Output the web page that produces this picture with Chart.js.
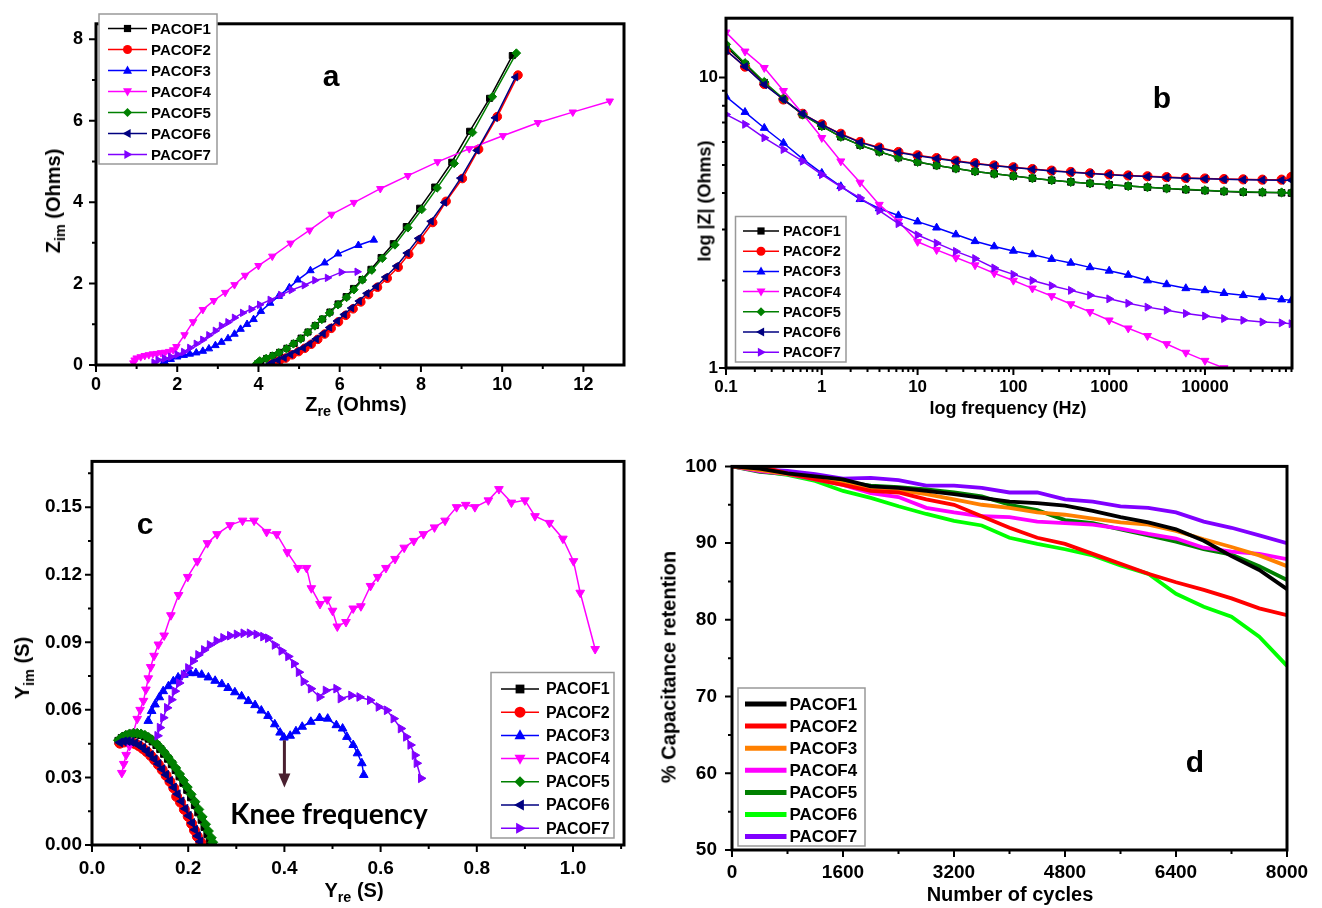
<!DOCTYPE html>
<html>
<head>
<meta charset="utf-8">
<script src="https://cdn.jsdelivr.net/npm/chart.js@4.4.0/dist/chart.umd.min.js"></script>
<style>
  body { margin: 0; background: #fff; }
  #page { position: relative; width: 1322px; height: 908px; overflow: hidden; background: #fff;
          font-family: 'Liberation Sans', Arial, sans-serif; font-weight: bold; color: #000; }
  canvas { position: absolute; }
  .lbl { position: absolute; white-space: nowrap; transform: translate(-50%, -50%); }
  .rot { transform: translate(-50%, -50%) rotate(-90deg); }
  .lbl sub { font-size: 72%; vertical-align: -0.35em; }
  .letter { font-size: 30px; }
  .knee { font-family: Lato, 'Open Sans', sans-serif; font-size: 28px; font-weight: bold; }
</style>
</head>
<body>
<div id="page">
  <canvas id="chartA" style="left:0;top:0" width="660" height="430"></canvas>
  <canvas id="chartB" style="left:660px;top:0" width="662" height="430"></canvas>
  <canvas id="chartC" style="left:0;top:440px" width="660" height="468"></canvas>
  <canvas id="chartD" style="left:660px;top:440px" width="662" height="468"></canvas>

  <div class="lbl rot" style="left:55px;top:201px;font-size:20px">Z<sub>im</sub> (Ohms)</div>
  <div class="lbl" style="left:356px;top:406px;font-size:20px">Z<sub>re</sub> (Ohms)</div>
  <div class="lbl letter" style="left:331px;top:76px">a</div>

  <div class="lbl rot" style="left:705px;top:201px;font-size:18px">log |Z| (Ohms)</div>
  <div class="lbl" style="left:1008px;top:408px;font-size:18px">log frequency (Hz)</div>
  <div class="lbl letter" style="left:1162px;top:98px">b</div>

  <div class="lbl rot" style="left:24px;top:668px;font-size:20px">Y<sub>im</sub> (S)</div>
  <div class="lbl" style="left:354px;top:892px;font-size:20px">Y<sub>re</sub> (S)</div>
  <div class="lbl letter" style="left:145px;top:524px">c</div>
  <div class="lbl knee" style="left:329px;top:813px">Knee frequency</div>

  <div class="lbl rot" style="left:669px;top:667px;font-size:20px">% Capacitance retention</div>
  <div class="lbl" style="left:1010px;top:894px;font-size:20px">Number of cycles</div>
  <div class="lbl letter" style="left:1195px;top:762px">d</div>
</div>

<script>
// ---- data ----
const names = ['PACOF1', 'PACOF2', 'PACOF3', 'PACOF4', 'PACOF5', 'PACOF6', 'PACOF7'];

// (a) Nyquist, [Zre, Zim] in Ohms
const nyq1 = [[3.98,0.03],[4.06,0.09],[4.2,0.16],[4.36,0.23],[4.52,0.31],[4.7,0.41],[4.88,0.53],[5.05,0.66],[5.22,0.81],[5.4,0.97],[5.58,1.13],[5.76,1.3],[5.96,1.5],[6.16,1.68],[6.34,1.88],[6.55,2.1],[6.77,2.35],[7.02,2.64],[7.32,2.98],[7.64,3.4],[7.97,3.85],[8.34,4.37],[8.76,4.98],[9.2,5.74],[9.69,6.55],[10.25,7.6]];
const nyq2 = [[4.3,0.02],[4.38,0.06],[4.52,0.11],[4.67,0.17],[4.83,0.25],[4.99,0.33],[5.14,0.41],[5.3,0.51],[5.46,0.63],[5.63,0.76],[5.79,0.9],[5.97,1.06],[6.15,1.22],[6.33,1.38],[6.52,1.55],[6.71,1.73],[6.93,1.91],[7.17,2.13],[7.44,2.4],[7.7,2.72],[7.98,3.08],[8.29,3.5],[8.62,4.02],[9.02,4.58],[9.42,5.3],[9.88,6.1],[10.39,7.12]];
const nyq3 = [[1.64,0.02],[1.69,0.08],[1.84,0.14],[2.0,0.2],[2.16,0.24],[2.31,0.27],[2.47,0.3],[2.63,0.34],[2.78,0.4],[2.94,0.48],[3.09,0.56],[3.25,0.65],[3.41,0.76],[3.56,0.88],[3.72,1.0],[3.88,1.12],[4.06,1.32],[4.29,1.52],[4.5,1.69],[4.76,1.9],[4.97,2.09],[5.28,2.32],[5.63,2.51],[5.96,2.73],[6.46,2.94],[6.84,3.07]];
const nyq4 = [[0.92,0.05],[0.95,0.12],[1.0,0.17],[1.1,0.2],[1.2,0.23],[1.3,0.25],[1.4,0.27],[1.5,0.28],[1.6,0.3],[1.7,0.31],[1.8,0.33],[1.9,0.37],[1.98,0.45],[2.18,0.74],[2.39,1.06],[2.63,1.36],[2.9,1.58],[3.18,1.78],[3.41,1.97],[3.67,2.2],[4.0,2.44],[4.34,2.67],[4.79,2.99],[5.26,3.31],[5.8,3.7],[6.35,3.99],[7.0,4.33],[7.68,4.65],[8.41,4.99],[9.19,5.31],[10.02,5.63],[10.88,5.95],[11.74,6.21],[12.65,6.48]];
const nyq5 = [[3.96,0.04],[4.03,0.1],[4.19,0.16],[4.34,0.22],[4.5,0.3],[4.69,0.4],[4.86,0.52],[5.04,0.64],[5.21,0.8],[5.39,0.96],[5.56,1.12],[5.75,1.28],[5.96,1.48],[6.17,1.66],[6.35,1.85],[6.56,2.09],[6.79,2.33],[7.05,2.62],[7.36,2.95],[7.68,3.37],[8.02,3.82],[8.4,4.35],[8.82,4.95],[9.27,5.71],[9.76,6.59],[10.35,7.66]];
const nyq6 = [[4.27,0.02],[4.34,0.06],[4.48,0.12],[4.63,0.18],[4.79,0.26],[4.95,0.34],[5.1,0.42],[5.26,0.52],[5.42,0.64],[5.59,0.77],[5.75,0.92],[5.94,1.08],[6.11,1.24],[6.29,1.4],[6.48,1.57],[6.67,1.76],[6.9,1.93],[7.13,2.16],[7.4,2.43],[7.66,2.75],[7.94,3.11],[8.25,3.53],[8.58,3.99],[8.98,4.59],[9.38,5.27],[9.83,6.07],[10.33,7.07]];
const nyq7 = [[1.43,0.06],[1.53,0.12],[1.69,0.16],[1.84,0.2],[2.0,0.26],[2.16,0.32],[2.31,0.42],[2.47,0.52],[2.63,0.62],[2.78,0.73],[2.94,0.84],[3.09,0.96],[3.25,1.05],[3.41,1.16],[3.61,1.28],[3.82,1.37],[4.03,1.48],[4.29,1.6],[4.55,1.72],[4.81,1.84],[5.13,1.96],[5.39,2.08],[5.7,2.14],[6.04,2.28],[6.43,2.29]];
const xTicksA = [0, 2, 4, 6, 8, 10, 12];
const yTicksA = [0, 2, 4, 6, 8];

// (b) Bode, |Z| in Ohms against frequency in Hz
const freqB = [0.1,0.158,0.251,0.398,0.631,1,1.58,2.51,3.98,6.31,10,15.8,25.1,39.8,63.1,100,158,251,398,631,1000,1580,2510,3980,6310,10000,15800,25100,39800,63100,80000];
const bode1 = [12.8,11.1,9.6,8.4,7.45,6.8,6.25,5.85,5.55,5.3,5.12,4.98,4.86,4.75,4.66,4.58,4.5,4.43,4.37,4.32,4.27,4.23,4.19,4.15,4.11,4.08,4.05,4.03,4.02,4.01,4.0];
const bode2 = [12.4,10.9,9.5,8.4,7.5,6.9,6.4,6.0,5.74,5.54,5.4,5.28,5.17,5.07,4.98,4.91,4.84,4.78,4.73,4.68,4.64,4.6,4.57,4.54,4.51,4.49,4.47,4.46,4.45,4.45,4.55];
const bode3 = [8.6,7.6,6.7,5.95,5.25,4.69,4.22,3.81,3.54,3.35,3.19,3.04,2.88,2.73,2.62,2.53,2.46,2.37,2.3,2.22,2.16,2.09,2.0,1.94,1.88,1.85,1.81,1.78,1.75,1.72,1.71];
const bode4 = [14.3,12.3,10.8,9.0,7.5,6.2,5.15,4.35,3.65,3.2,2.72,2.55,2.4,2.26,2.12,2.0,1.88,1.77,1.66,1.56,1.46,1.37,1.29,1.21,1.13,1.06,1.0,0.94,0.88,0.83,0.8];
const bode5 = [13.0,11.2,9.65,8.45,7.45,6.8,6.25,5.85,5.55,5.3,5.12,4.98,4.86,4.75,4.66,4.58,4.5,4.43,4.37,4.32,4.27,4.23,4.19,4.15,4.12,4.09,4.06,4.04,4.03,4.02,4.01];
const bode6 = [12.4,10.9,9.45,8.4,7.5,6.88,6.38,5.98,5.72,5.52,5.38,5.26,5.15,5.05,4.97,4.9,4.83,4.77,4.72,4.67,4.63,4.59,4.56,4.53,4.5,4.48,4.46,4.45,4.44,4.43,4.43];
const bode7 = [7.46,6.9,6.2,5.65,5.15,4.63,4.2,3.85,3.48,3.14,2.87,2.69,2.52,2.38,2.21,2.1,2.0,1.92,1.85,1.78,1.73,1.67,1.62,1.58,1.54,1.51,1.48,1.46,1.44,1.43,1.42];
const xTicksB = [0.1, 1, 10, 100, 1000, 10000];
const yTicksB = [1, 10];

// (c) admittance, [Yre, Yim] in S
const adm1 = [[0.055,0.0462],[0.062,0.0475],[0.070,0.0484],[0.078,0.0490],[0.086,0.0493],[0.094,0.0492],[0.102,0.0489],[0.110,0.0482],[0.118,0.0472],[0.126,0.0460],[0.134,0.0444],[0.142,0.0426],[0.150,0.0405],[0.158,0.0383],[0.166,0.0359],[0.174,0.0333],[0.182,0.0305],[0.190,0.0276],[0.198,0.0245],[0.206,0.0212],[0.214,0.0178],[0.221,0.0145],[0.228,0.0112],[0.234,0.0080],[0.240,0.0048],[0.245,0.0018]];
const adm2 = [[0.058,0.0452],[0.066,0.0457],[0.074,0.0458],[0.082,0.0455],[0.090,0.0449],[0.098,0.0440],[0.106,0.0428],[0.114,0.0414],[0.122,0.0397],[0.130,0.0378],[0.138,0.0357],[0.146,0.0334],[0.154,0.0309],[0.162,0.0282],[0.170,0.0253],[0.176,0.0215],[0.184,0.0190],[0.192,0.0158],[0.200,0.0127],[0.207,0.0095],[0.213,0.0066],[0.219,0.0038],[0.226,0.0012]];
const adm3 = [[0.117,0.0551],[0.124,0.0595],[0.131,0.0624],[0.140,0.0656],[0.148,0.0683],[0.159,0.0705],[0.169,0.0727],[0.179,0.0744],[0.191,0.0756],[0.204,0.0763],[0.216,0.0763],[0.228,0.0756],[0.242,0.0744],[0.256,0.0729],[0.270,0.0714],[0.283,0.0697],[0.297,0.0678],[0.311,0.066],[0.325,0.0639],[0.339,0.0621],[0.352,0.0597],[0.366,0.0573],[0.380,0.0536],[0.391,0.0499],[0.399,0.0477],[0.412,0.0485],[0.424,0.0505],[0.437,0.0525],[0.455,0.0547],[0.473,0.0564],[0.490,0.0561],[0.508,0.0532],[0.521,0.0517],[0.530,0.048],[0.543,0.0444],[0.552,0.0407],[0.561,0.0363],[0.565,0.0311]];
const adm4 = [[0.062,0.032],[0.066,0.036],[0.071,0.040],[0.078,0.044],[0.086,0.050],[0.094,0.056],[0.100,0.060],[0.107,0.064],[0.112,0.069],[0.117,0.074],[0.122,0.079],[0.129,0.084],[0.138,0.089],[0.150,0.093],[0.164,0.102],[0.180,0.111],[0.199,0.119],[0.219,0.126],[0.240,0.134],[0.260,0.138],[0.287,0.142],[0.313,0.144],[0.337,0.144],[0.363,0.139],[0.384,0.138],[0.406,0.130],[0.428,0.123],[0.446,0.123],[0.456,0.114],[0.474,0.107],[0.489,0.109],[0.500,0.104],[0.510,0.097],[0.528,0.099],[0.543,0.105],[0.559,0.106],[0.579,0.115],[0.594,0.119],[0.611,0.123],[0.630,0.127],[0.649,0.132],[0.669,0.135],[0.689,0.138],[0.712,0.141],[0.734,0.144],[0.758,0.150],[0.777,0.151],[0.796,0.150],[0.824,0.153],[0.846,0.158],[0.872,0.152],[0.900,0.153],[0.921,0.146],[0.951,0.143],[0.979,0.136],[1.001,0.126],[1.015,0.112],[1.046,0.087]];
const adm5 = [[0.055,0.0465],[0.062,0.0478],[0.070,0.0487],[0.078,0.0493],[0.086,0.0496],[0.094,0.0496],[0.102,0.0493],[0.110,0.0487],[0.118,0.0477],[0.126,0.0465],[0.134,0.0450],[0.142,0.0432],[0.150,0.0412],[0.158,0.0390],[0.166,0.0367],[0.174,0.0342],[0.182,0.0315],[0.190,0.0287],[0.198,0.0257],[0.206,0.0225],[0.214,0.0192],[0.222,0.0158],[0.229,0.0125],[0.236,0.0092],[0.242,0.0062],[0.248,0.0032],[0.251,0.0012]];
const adm6 = [[0.058,0.0455],[0.066,0.0460],[0.074,0.0461],[0.082,0.0458],[0.090,0.0452],[0.098,0.0443],[0.106,0.0431],[0.114,0.0417],[0.122,0.0400],[0.130,0.0381],[0.138,0.0360],[0.146,0.0337],[0.154,0.0312],[0.162,0.0285],[0.170,0.0256],[0.178,0.0226],[0.186,0.0194],[0.194,0.0161],[0.201,0.0130],[0.208,0.0098],[0.214,0.0068],[0.220,0.0040],[0.225,0.0015]];
const adm7 = [[0.136,0.0485],[0.141,0.0521],[0.148,0.0565],[0.156,0.0609],[0.165,0.0645],[0.172,0.0683],[0.181,0.0719],[0.191,0.0756],[0.200,0.0786],[0.210,0.0817],[0.221,0.0844],[0.233,0.0866],[0.245,0.0888],[0.259,0.0906],[0.273,0.092],[0.287,0.0929],[0.301,0.0935],[0.315,0.094],[0.328,0.094],[0.342,0.0935],[0.356,0.0925],[0.366,0.0918],[0.380,0.0888],[0.394,0.0862],[0.408,0.0837],[0.420,0.0805],[0.430,0.0767],[0.440,0.0726],[0.455,0.0694],[0.473,0.0657],[0.486,0.0686],[0.508,0.0694],[0.517,0.065],[0.539,0.0664],[0.556,0.0657],[0.578,0.0643],[0.596,0.0613],[0.613,0.0598],[0.627,0.0561],[0.642,0.0517],[0.653,0.048],[0.662,0.0444],[0.671,0.0399],[0.675,0.0363],[0.684,0.0296]];
const xTicksC = [0.0, 0.2, 0.4, 0.6, 0.8, 1.0];
const yTicksC = [0.00, 0.03, 0.06, 0.09, 0.12, 0.15];
const kneeX = 0.4, kneeFrom = 0.0465, kneeTo = 0.0255;

// (d) cycling, % capacitance retention
const cyclesD = [0,400,800,1200,1600,2000,2400,2800,3200,3600,4000,4400,4800,5200,5600,6000,6400,6800,7200,7600,8000];
const ret1 = [100,99.7,99.1,98.7,98.3,97.4,97.2,96.8,96.4,95.9,95.4,95.2,94.9,94.2,93.4,92.7,91.8,90.3,88.3,86.5,84.0];
const ret2 = [100,100,99.1,98.3,97.6,96.8,96.6,95.7,95.0,93.5,92.0,90.7,89.9,88.6,87.3,86.0,84.9,83.9,82.8,81.5,80.6];
const ret3 = [100,99.5,99.0,98.5,97.8,97.1,96.9,96.4,95.7,95.0,94.6,94.0,93.7,93.2,92.7,92.4,91.6,90.5,89.5,88.4,87.0];
const ret4 = [100,99.4,99.0,98.3,97.6,96.5,96.0,94.6,94.0,93.5,93.4,92.8,92.6,92.4,91.9,91.2,90.6,89.4,88.9,88.6,87.9];
const ret5 = [100,99.3,99.0,98.5,98.0,97.5,97.3,97.0,96.6,96.1,95.0,94.3,93.0,92.6,91.8,91.0,90.2,89.2,88.5,87.0,85.2];
const ret6 = [100,99.4,98.9,98.1,96.8,95.9,94.8,93.8,92.9,92.3,90.7,89.9,89.2,88.4,87.1,86.0,83.4,81.7,80.4,77.8,74.0];
const ret7 = [100,99.6,99.4,99.0,98.4,98.5,98.2,97.5,97.5,97.2,96.6,96.6,95.7,95.4,94.8,94.6,94.0,92.8,92.0,91.0,90.0];
const xTicksD = [0, 1600, 3200, 4800, 6400, 8000];
const yTicksD = [50, 60, 70, 80, 90, 100];

// ---- styles ----
const colorsEIS = ['#000000', '#ff0000', '#0000ff', '#ff00ff', '#008000', '#000080', '#8000ff'];
const colorsCyc = ['#000000', '#ff0000', '#ff8000', '#ff00ff', '#008000', '#00ff00', '#8000ff'];
const markers = [
  { style: 'rect', rot: 0 }, { style: 'circle', rot: 0 }, { style: 'triangle', rot: 0 },
  { style: 'triangle', rot: 180 }, { style: 'rectRot', rot: 0 }, { style: 'triangle', rot: -90 },
  { style: 'triangle', rot: 90 }
];
const FONT = "'Liberation Sans', Arial, sans-serif";

function pairs(list) { return list.map(p => ({ x: p[0], y: p[1] })); }
function zip(xs, ys) { return xs.map((x, i) => ({ x: x, y: ys[i] })); }

function eisSets(series, radius) {
  return series.map((d, i) => ({
    label: names[i], data: d, showLine: true, tension: 0,
    borderColor: colorsEIS[i], backgroundColor: colorsEIS[i], borderWidth: 1.5,
    pointStyle: markers[i].style, rotation: markers[i].rot, pointRadius: radius,
    pointBorderWidth: 1, order: -i
  }));
}

function drawMarker(ctx, m, x, y, r) {
  ctx.save();
  ctx.translate(x, y);
  ctx.rotate(m.rot * Math.PI / 180);
  ctx.beginPath();
  if (m.style === 'circle') ctx.arc(0, 0, r, 0, Math.PI * 2);
  else if (m.style === 'rect') ctx.rect(-r * 0.8, -r * 0.8, r * 1.6, r * 1.6);
  else if (m.style === 'rectRot') { ctx.moveTo(0, -r); ctx.lineTo(r, 0); ctx.lineTo(0, r); ctx.lineTo(-r, 0); ctx.closePath(); }
  else { ctx.moveTo(0, -r * 1.1); ctx.lineTo(r, r * 0.7); ctx.lineTo(-r, r * 0.7); ctx.closePath(); }
  ctx.fill();
  ctx.restore();
}

// box, outward ticks and in-plot legend in the look of the original figure
function framePlugin(cfg) {
  return {
    id: 'frame',
    afterDatasetsDraw(chart) {
      const ctx = chart.ctx, a = chart.chartArea;
      const xs = chart.scales.x, ys = chart.scales.y;
      ctx.save();
      ctx.strokeStyle = '#000';
      ctx.lineWidth = 2;
      ctx.beginPath();
      cfg.xMajor.forEach(v => { const p = xs.getPixelForValue(v); ctx.moveTo(p, a.bottom); ctx.lineTo(p, a.bottom + 7); });
      cfg.xMinor.forEach(v => { const p = xs.getPixelForValue(v); ctx.moveTo(p, a.bottom); ctx.lineTo(p, a.bottom + 4); });
      cfg.yMajor.forEach(v => { const p = ys.getPixelForValue(v); ctx.moveTo(a.left, p); ctx.lineTo(a.left - 7, p); });
      cfg.yMinor.forEach(v => { const p = ys.getPixelForValue(v); ctx.moveTo(a.left, p); ctx.lineTo(a.left - 4, p); });
      ctx.stroke();
      ctx.lineWidth = 3;
      ctx.strokeRect(a.left, a.top, a.right - a.left, a.bottom - a.top);

      const L = cfg.legend;
      ctx.fillStyle = '#fff';
      ctx.fillRect(L.box[0], L.box[1], L.box[2] - L.box[0], L.box[3] - L.box[1]);
      ctx.strokeStyle = '#999';
      ctx.lineWidth = 1.5;
      ctx.strokeRect(L.box[0], L.box[1], L.box[2] - L.box[0], L.box[3] - L.box[1]);
      ctx.font = 'bold ' + L.font + 'px ' + FONT;
      ctx.textBaseline = 'middle';
      names.forEach((n, i) => {
        const y = L.y + i * L.dy;
        ctx.strokeStyle = L.colors[i];
        ctx.lineWidth = L.lineWidth;
        ctx.beginPath(); ctx.moveTo(L.x1, y); ctx.lineTo(L.x2, y); ctx.stroke();
        if (L.marker) { ctx.fillStyle = L.colors[i]; drawMarker(ctx, markers[i], (L.x1 + L.x2) / 2, y, L.marker); }
        ctx.fillStyle = '#000';
        ctx.fillText(n, L.tx, y + 1);
      });
      if (cfg.extra) cfg.extra(chart);
      ctx.restore();
    }
  };
}

function halves(ticks) {
  const out = [];
  for (let i = 0; i < ticks.length - 1; i++) out.push((ticks[i] + ticks[i + 1]) / 2);
  return out;
}
function logMinor(lo, hi) {
  const out = [];
  for (let d = Math.floor(Math.log10(lo)); d <= Math.ceil(Math.log10(hi)); d++)
    for (let k = 2; k <= 9; k++) { const v = k * Math.pow(10, d); if (v > lo && v < hi) out.push(v); }
  return out;
}

function axis(type, min, max, ticks, fmt, size, pad, fit, isX) {
  return {
    type: type, min: min, max: max,
    afterBuildTicks: s => { s.ticks = ticks.map(v => ({ value: v })); },
    afterFit: s => { if (isX) s.height = fit; else s.width = fit; },
    ticks: { color: '#000', padding: pad, autoSkip: false, maxRotation: 0, includeBounds: false,
             font: { family: FONT, size: size, weight: 'bold' }, callback: fmt },
    grid: { display: false, drawTicks: false },
    border: { display: false }
  };
}

const common = {
  responsive: false, animation: false, events: [],
  plugins: { legend: { display: false }, tooltip: { enabled: false } }
};

// (a)
new Chart(document.getElementById('chartA'), {
  type: 'scatter',
  data: { datasets: eisSets([nyq1, nyq2, nyq3, nyq4, nyq5, nyq6, nyq7].map(pairs), 4.3) },
  options: Object.assign({}, common, {
    layout: { padding: { left: 0, top: 13, right: 36, bottom: 35 } },
    scales: {
      x: axis('linear', 0, 13, xTicksA, v => String(v), 18, 9, 30, true),
      y: axis('linear', 0, 8.38, yTicksA, v => String(v), 18, 13, 96, false)
    }
  }),
  plugins: [framePlugin({
    xMajor: xTicksA, xMinor: halves(xTicksA.concat([14])).filter(v => v < 13),
    yMajor: yTicksA, yMinor: halves(yTicksA),
    legend: { box: [99, 14, 217, 164], y: 28.5, dy: 21, x1: 108, x2: 147, tx: 151, font: 15,
              colors: colorsEIS, lineWidth: 1.5, marker: 4.5 }
  })]
});

// (b)
new Chart(document.getElementById('chartB'), {
  type: 'scatter',
  data: { datasets: eisSets([bode1, bode2, bode3, bode4, bode5, bode6, bode7].map(s => zip(freqB, s)), 4.6) },
  options: Object.assign({}, common, {
    layout: { padding: { left: 0, top: 9, right: 30, bottom: 32 } },
    scales: {
      x: axis('logarithmic', 0.1, 81000, xTicksB, v => String(v), 17, 9, 30, true),
      y: axis('logarithmic', 1, 16, yTicksB, v => String(v), 17, 8, 66, false)
    }
  }),
  plugins: [framePlugin({
    xMajor: xTicksB, xMinor: logMinor(0.1, 81000),
    yMajor: yTicksB, yMinor: logMinor(1, 16),
    legend: { box: [75.5, 216.5, 186, 362], y: 231, dy: 20.2, x1: 83, x2: 119, tx: 123, font: 14.5,
              colors: colorsEIS, lineWidth: 1.5, marker: 4.5 }
  })]
});

// (c)
new Chart(document.getElementById('chartC'), {
  type: 'scatter',
  data: { datasets: eisSets([adm1, adm2, adm3, adm4, adm5, adm6, adm7].map(pairs), 5) },
  options: Object.assign({}, common, {
    layout: { padding: { left: 0, top: 18, right: 36, bottom: 33 } },
    scales: {
      x: axis('linear', 0, 1.106, xTicksC, v => v.toFixed(1), 19, 12, 30, true),
      y: axis('linear', 0, 0.1703, yTicksC, v => v.toFixed(2), 19, 10, 92, false)
    }
  }),
  plugins: [framePlugin({
    xMajor: xTicksC, xMinor: halves(xTicksC.concat([1.2])).filter(v => v < 1.106),
    yMajor: yTicksC, yMinor: halves(yTicksC.concat([0.18])).filter(v => v < 0.17),
    legend: { box: [491, 232.5, 614, 398], y: 249, dy: 23.2, x1: 501, x2: 539, tx: 546, font: 16,
              colors: colorsEIS, lineWidth: 1.5, marker: 5.5 },
    extra: chart => {
      const ctx = chart.ctx, xs = chart.scales.x, ys = chart.scales.y;
      const x = xs.getPixelForValue(kneeX), y1 = ys.getPixelForValue(kneeFrom), y2 = ys.getPixelForValue(kneeTo);
      ctx.strokeStyle = '#4a2030'; ctx.fillStyle = '#4a2030'; ctx.lineWidth = 3;
      ctx.beginPath(); ctx.moveTo(x, y1); ctx.lineTo(x, y2 - 12); ctx.stroke();
      ctx.beginPath(); ctx.moveTo(x - 6, y2 - 14); ctx.lineTo(x + 6, y2 - 14); ctx.lineTo(x, y2); ctx.closePath(); ctx.fill();
    }
  })]
});

// (d)
new Chart(document.getElementById('chartD'), {
  type: 'scatter',
  data: {
    datasets: [ret1, ret2, ret3, ret4, ret5, ret6, ret7].map((s, i) => ({
      label: names[i], data: zip(cyclesD, s), showLine: true, tension: 0,
      borderColor: colorsCyc[i], backgroundColor: colorsCyc[i], borderWidth: 3.8, pointRadius: 0
    }))
  },
  options: Object.assign({}, common, {
    layout: { padding: { left: 0, top: 22, right: 35, bottom: 28 } },
    scales: {
      x: axis('linear', 0, 8000, xTicksD, v => String(v), 19, 11, 30, true),
      y: axis('linear', 50, 100, yTicksD, v => String(v), 19, 15, 72, false)
    }
  }),
  plugins: [framePlugin({
    xMajor: xTicksD, xMinor: halves(xTicksD),
    yMajor: yTicksD, yMinor: halves(yTicksD),
    legend: { box: [78, 248, 205, 406], y: 264, dy: 22.1, x1: 85, x2: 126.5, tx: 129.5, font: 17,
              colors: colorsCyc, lineWidth: 5, marker: 0 }
  })]
});
</script>
</body>
</html>
